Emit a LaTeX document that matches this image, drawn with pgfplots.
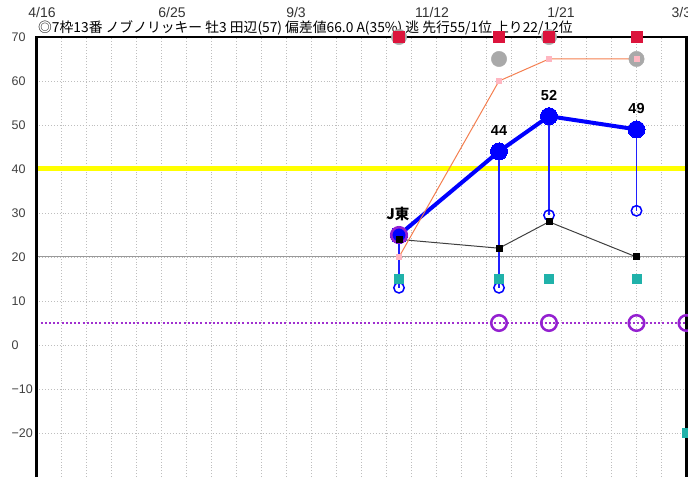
\documentclass[border=0pt]{standalone}
\usepackage{fontspec}
\setmainfont{Liberation Sans}
\newfontfamily\jp{Noto Sans CJK JP}
\usepackage{pgfplots}
\pgfplotsset{compat=1.18}
\definecolor{rq}{HTML}{DC143C}
\definecolor{gc}{HTML}{A9A9A9}
\definecolor{orl}{HTML}{F47F50}
\definecolor{pk}{HTML}{FFB6C1}
\definecolor{bl}{HTML}{0000FF}
\definecolor{vb}{HTML}{2020FF}
\definecolor{dk}{HTML}{404040}
\definecolor{tl}{HTML}{20B2AA}
\definecolor{pu}{HTML}{9420D0}
\definecolor{pud}{HTML}{A030D0}
\definecolor{yl}{HTML}{FFFF00}
\definecolor{gr}{HTML}{BEBEBE}
\begin{document}
\begin{tikzpicture}
\begin{axis}[
  scale only axis, width=650pt, height=440pt,
  xmin=0, xmax=52, ymin=-30, ymax=70,
  axis line style={draw=none},
  clip=false,
  xtick={0.44,10.84,20.76,31.64,41.96,51.9},
  xticklabels={4/16,6/25,9/3,11/12,1/21,3/31},
  xticklabel pos=upper,
  xticklabel style={anchor=center, inner sep=0pt, yshift=24.5pt, font=\fontsize{14}{15}\selectfont, text=black!80},
  minor xtick={2,4,...,50},
  xminorgrids=true,
  minor grid style={gr, line width=0.9pt, dotted},
  ytick={-20,-10,...,70},
  yticklabels={−20,−10,0,10,20,30,40,50,60,70},
  yticklabel style={anchor=west, inner sep=0pt, xshift=-25pt, font=\fontsize{12.5}{13}\selectfont, text=black!75},
  ymajorgrids=true,
  major grid style={gr, line width=0.9pt, dotted},
  major tick length=0pt, minor tick length=0pt,
]
% reference lines
\addplot[gray!80, line width=1pt] coordinates {(0,20) (52,20)};
\addplot[yl, line width=5pt] coordinates {(0,40) (52,40)};
\addplot[pud, line width=2pt, dash pattern=on 2pt off 2.2pt] coordinates {(0,5) (52,5)};
% grey circles
\addplot[only marks, mark=*, mark size=7.7pt, gc, mark options={draw=gc, fill=gc}] coordinates {(29,70) (41,70) (37,65) (48,65)};
% blue verticals
\addplot[vb, line width=1.4pt] coordinates {(29,25) (29,13)};
\addplot[vb, line width=1.4pt] coordinates {(37,44) (37,13)};
\addplot[vb, line width=1.4pt] coordinates {(41,52) (41,29.5)};
\addplot[vb, line width=1.4pt] coordinates {(48,49) (48,30.5)};
% blue open circles
\addplot[only marks, mark=o, mark size=5.2pt, bl, line width=1.5pt, mark options={fill=white}] coordinates {(29,13) (37,13) (41,29.5) (48,30.5)};
% teal squares
\addplot[only marks, mark=square*, mark size=4.6pt, tl, mark options={draw=tl, fill=tl}] coordinates {(29,15) (37,15) (41,15) (48,15) (52,-20)};
% blue thick line
\addplot[bl, line width=4pt, mark=*, mark size=8.5pt, mark options={fill=bl, draw=bl, line width=0pt}] coordinates {(29,25) (37,44) (41,52) (48,49)};
% purple circles
\addplot[only marks, mark=o, mark size=7.8pt, pu, line width=2.5pt] coordinates {(29,25) (37,5) (41,5) (48,5) (52,5)};
% black line
\addplot[dk, line width=1pt, mark=square*, mark size=3pt, mark options={fill=black, draw=black}] coordinates {(29,24) (37,22) (41,28) (48,20)};
% orange line
\addplot[orl, line width=1pt, mark=square*, mark size=2.5pt, mark options={fill=pk, draw=pk}] coordinates {(29,20) (37,60) (41,65) (48,65)};
% red squares
\addplot[only marks, mark=square*, mark size=5.6pt, rq, mark options={draw=rq, fill=rq}] coordinates {(29,70) (37,70) (41,70) (48,70)};
% labels
\node[font=\jp\bfseries\fontsize{14.5}{15}\selectfont, yshift=21pt] at (axis cs:28.9,25) {J東};
\node[font=\bfseries\fontsize{14.5}{15}\selectfont, yshift=21pt] at (axis cs:37,44) {44};
\node[font=\bfseries\fontsize{14.5}{15}\selectfont, yshift=21pt] at (axis cs:41,52) {52};
\node[font=\bfseries\fontsize{14.5}{15}\selectfont, yshift=21pt] at (axis cs:48,49) {49};
% title
\node[anchor=west, inner sep=0pt, xshift=1.5pt, yshift=9.5pt, font=\jp\fontsize{13.8}{14}\selectfont] at (rel axis cs:0,1) {◎7枠13番 ノブノリッキー 牡3 田辺(57) 偏差値66.0 A(35\%) 逃 先行55/1位 上り22/12位};
% frame
\draw[black, line width=2.2pt] (rel axis cs:0,0) -- (rel axis cs:0,1) -- (rel axis cs:1,1) -- (rel axis cs:1,0);
\end{axis}
\pgfresetboundingbox
\useasboundingbox ([xshift=-36.5pt]current axis.south west) rectangle ([xshift=1.5pt,yshift=37pt]current axis.north east);
\end{tikzpicture}
\end{document}
